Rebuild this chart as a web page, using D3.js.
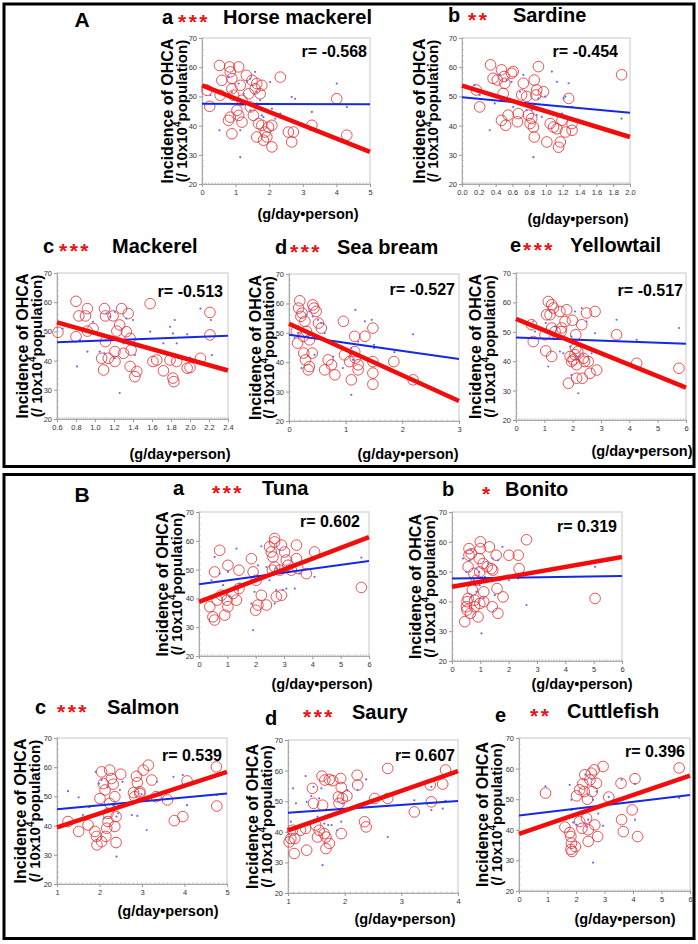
<!DOCTYPE html>
<html><head><meta charset="utf-8">
<script src="https://cdn.jsdelivr.net/npm/d3@7"></script>
<style>body{margin:0;background:#fff}svg{display:block}text{font-family:"Liberation Sans",Arial,sans-serif}</style>
</head><body>
<script>
// ---------- DATA ----------
const sectionLabels = ["A", "B"];
const panelLetters = ["a", "b", "c", "d", "e", "a", "b", "c", "d", "e"];
const fishNames = ["Horse mackerel", "Sardine", "Mackerel", "Sea bream", "Yellowtail", "Tuna", "Bonito", "Salmon", "Saury", "Cuttlefish"];
const significance = ["***", "**", "***", "***", "***", "***", "*", "***", "***", "**"];
const rValues = ["-0.568", "-0.454", "-0.513", "-0.527", "-0.517", "0.602", "0.319", "0.539", "0.607", "0.396"];
const yTicks = [20, 30, 40, 50, 60, 70];
const xTicks0to5 = [0, 1, 2, 3, 4, 5];
const xTicks0to2 = [0.0, 0.2, 0.4, 0.6, 0.8, 1.0, 1.2, 1.4, 1.6, 1.8, 2.0];
const xTicks06to24 = [0.6, 0.8, 1.0, 1.2, 1.4, 1.6, 1.8, 2.0, 2.2, 2.4];
const xTicks0to3 = [0, 1, 2, 3];
const xTicks0to6 = [0, 1, 2, 3, 4, 5, 6];
const xTicks1to5 = [1, 2, 3, 4, 5];
const xTicks1to4 = [1, 2, 3, 4];

// A-a Horse mackerel
const horseMackerelCircles = [[0.52,60.6],[0.82,60.1],[1.09,60.1],[0.15,52.1],[0.23,46.6],[0.54,50.4],[0.59,55.5],[0.84,58.4],[0.89,56.1],[0.89,52.6],[0.94,50.4],[0.84,42.9],[0.89,37.2],[0.79,41.8],[1.09,43.5],[1.19,41.2],[1.14,53.8],[1.19,48.7],[1.32,57.2],[1.39,50.9],[1.58,52.6],[1.63,54.4],[1.49,55.5],[1.73,50.9],[1.78,53.8],[1.53,43.5],[1.68,40.7],[1.63,36.1],[1.83,35.0],[1.78,40.1],[1.88,37.8],[1.98,39.5],[2.08,40.1],[2.08,32.7],[1.93,36.1],[2.33,56.6],[2.57,37.8],[2.72,37.8],[2.67,34.4],[3.27,40.1],[4.01,49.2],[4.31,36.7],[1.44,46.4],[1.04,45.2]];
const horseMackerelDots = [[0.15,53.8],[0.25,50.4],[0.52,38.4],[0.79,56.6],[0.89,51.5],[1.09,54.4],[1.14,38.4],[1.14,29.2],[1.34,54.9],[1.44,56.1],[1.58,58.4],[1.63,51.5],[1.73,48.7],[1.78,43.5],[1.83,42.9],[2.03,54.9],[2.08,45.8],[2.18,42.4],[2.67,49.8],[2.77,49.2],[3.27,44.7],[4.01,54.4],[4.31,46.4],[1.24,50.9],[1.44,45.2],[1.63,47.5],[2.33,44.1]];
const horseMackerelRed = [[0, 53.8], [5, 31.0]];
const horseMackerelBlue = [[0, 47.5], [5, 47.3]];

// A-b Sardine
const sardineCircles = [[0.17,52.2],[0.21,46.4],[0.34,60.8],[0.37,56.2],[0.42,55.6],[0.47,59.1],[0.50,56.8],[0.51,54.5],[0.49,51.0],[0.47,41.8],[0.52,40.1],[0.55,43.6],[0.61,58.5],[0.59,57.9],[0.67,44.1],[0.66,41.3],[0.73,54.5],[0.71,50.5],[0.77,50.0],[0.79,43.6],[0.83,42.4],[0.81,40.7],[0.85,39.5],[0.86,55.6],[0.88,50.5],[0.89,52.2],[0.86,36.1],[0.91,60.2],[0.97,51.6],[1.01,34.4],[1.05,40.7],[1.09,39.5],[1.13,38.9],[1.15,32.6],[1.17,34.4],[1.19,41.8],[1.23,37.8],[1.27,49.3],[1.31,38.4],[1.31,40.7],[1.90,57.4]];
const sardineDots = [[0.15,53.9],[0.21,50.5],[0.33,38.4],[0.39,47.6],[0.45,57.4],[0.53,48.7],[0.53,55.6],[0.59,55.0],[0.61,46.4],[0.73,57.4],[0.77,45.3],[0.83,45.3],[0.85,29.2],[0.91,49.3],[0.99,49.9],[1.07,58.5],[1.13,55.0],[1.19,44.1],[1.23,49.9],[1.27,54.5],[1.31,46.4],[1.21,49.3],[1.90,42.4],[0.95,43.0],[0.89,43.6],[0.69,51.6]];
const sardineRed = [[0, 53.7], [2, 36.1]];
const sardineBlue = [[0, 49.7], [2, 44.4]];

// A-c Mackerel
const mackerelCircles = [[0.61,49.7],[0.80,60.3],[0.80,48.2],[0.83,55.3],[0.90,55.3],[0.92,57.8],[0.92,50.1],[0.98,51.0],[1.07,40.8],[1.09,36.8],[1.10,57.8],[1.11,55.3],[1.11,46.5],[1.14,40.8],[1.19,55.3],[1.21,43.1],[1.21,39.7],[1.23,50.1],[1.26,52.2],[1.28,57.8],[1.30,42.5],[1.33,49.9],[1.35,56.1],[1.37,38.0],[1.42,34.5],[1.44,36.3],[1.38,43.6],[1.58,59.5],[1.61,39.7],[1.65,40.2],[1.72,36.5],[1.79,40.2],[1.82,34.0],[1.83,32.8],[1.86,39.7],[1.97,37.4],[2.00,37.6],[2.11,40.8],[2.21,56.5],[2.21,48.8],[1.37,47.6]];
const mackerelDots = [[0.66,51.0],[0.81,38.0],[0.84,47.0],[0.92,43.1],[0.98,53.3],[1.05,43.1],[1.10,42.5],[1.12,56.1],[1.16,55.0],[1.21,56.7],[1.21,40.8],[1.26,28.9],[1.30,45.9],[1.33,54.4],[1.40,53.9],[1.42,41.9],[1.58,49.9],[1.61,44.2],[1.72,45.9],[1.79,51.6],[1.82,49.3],[1.84,53.9],[1.86,45.9],[1.97,49.0],[2.00,41.0],[2.11,57.8],[2.22,53.9],[2.23,41.9],[1.26,47.6]];
const mackerelRed = [[0.6, 53.1], [2.4, 36.6]];
const mackerelBlue = [[0.6, 46.3], [2.4, 48.5]];

// A-d Sea bream
const seaBreamCircles = [[0.13,50.7],[0.15,46.5],[0.19,60.9],[0.17,58.4],[0.21,55.6],[0.23,56.7],[0.28,53.9],[0.31,50.5],[0.26,43.1],[0.29,40.8],[0.34,37.4],[0.36,38.5],[0.42,59.5],[0.44,58.4],[0.48,57.3],[0.52,53.3],[0.41,43.1],[0.57,51.6],[0.63,37.4],[0.69,40.8],[0.75,39.1],[0.81,35.7],[0.96,53.9],[0.98,42.5],[1.07,40.2],[1.10,34.0],[1.16,48.8],[1.17,41.4],[1.22,39.1],[1.22,37.4],[1.34,48.8],[1.48,51.6],[1.48,40.2],[1.48,36.3],[1.48,32.5],[1.85,40.2],[2.19,34.0],[0.25,48.8],[0.36,47.6],[1.16,43.6]];
const seaBreamDots = [[0.10,48.2],[0.16,49.9],[0.22,38.0],[0.31,56.1],[0.36,57.3],[0.42,55.6],[0.45,42.5],[0.51,54.4],[0.57,53.3],[0.63,49.9],[0.78,41.9],[0.95,38.0],[1.10,28.9],[1.10,44.8],[1.17,57.8],[1.22,47.0],[1.34,53.9],[1.46,54.4],[1.50,45.9],[1.50,44.8],[1.86,43.4],[2.19,49.5],[1.13,40.8]];
const seaBreamRed = [[0, 53.1], [3, 26.8]];
const seaBreamBlue = [[0, 49.3], [3, 41.1]];

// A-e Yellowtail
const yellowtailCircles = [[0.55,52.4],[0.61,46.7],[1.05,43.5],[1.26,41.6],[1.02,49.0],[1.08,55.8],[1.14,60.3],[1.26,59.2],[1.32,58.1],[1.20,55.8],[1.26,51.3],[1.38,50.1],[1.55,56.9],[1.61,51.3],[1.59,50.1],[1.79,57.5],[1.73,53.5],[1.99,53.9],[1.91,41.6],[2.02,40.5],[1.96,39.9],[2.11,49.0],[2.18,43.3],[2.08,42.2],[2.14,38.8],[1.85,32.5],[2.14,34.2],[2.32,52.4],[2.38,41.0],[2.34,34.2],[2.42,39.9],[2.55,39.9],[2.49,56.4],[2.79,56.9],[2.61,35.9],[2.85,37.0],[3.55,49.0],[4.26,39.3],[5.75,37.6],[2.11,44.4]];
const yellowtailDots = [[0.61,53.5],[0.67,50.1],[1.05,53.0],[1.14,38.2],[1.20,56.9],[1.32,47.8],[1.38,51.8],[1.55,43.3],[1.67,42.7],[1.79,47.3],[1.91,45.0],[1.96,48.4],[2.08,56.9],[2.14,41.0],[2.32,58.1],[2.32,45.6],[2.38,42.2],[2.49,53.5],[2.67,42.7],[2.79,49.5],[2.20,29.1],[3.55,54.1],[4.26,47.3],[5.75,51.3],[1.96,35.3]];
const yellowtailRed = [[0, 54.4], [6, 31.0]];
const yellowtailBlue = [[0, 48.1], [6, 45.9]];

// B-a Tuna
const tunaCircles = [[0.38,37.1],[0.49,33.6],[0.55,32.5],[0.55,49.2],[0.73,56.7],[0.64,39.4],[0.79,41.1],[0.91,34.2],[1.02,37.1],[0.99,39.4],[1.02,51.5],[1.20,41.7],[1.32,39.4],[1.41,43.4],[1.41,49.8],[1.85,53.8],[1.91,49.2],[2.02,46.3],[2.00,35.9],[2.08,37.7],[2.20,41.1],[2.38,37.7],[2.49,57.9],[2.55,56.1],[2.61,54.4],[2.59,49.8],[2.67,50.9],[2.67,60.8],[2.67,59.6],[2.73,40.6],[2.91,41.1],[2.91,58.5],[3.02,56.1],[3.14,51.5],[3.08,53.3],[3.44,58.5],[3.44,53.8],[3.49,50.4],[3.79,48.6],[4.08,56.1],[5.73,43.8],[2.85,49.8],[3.26,49.8]];
const tunaDots = [[0.44,46.3],[0.55,54.4],[0.73,48.6],[0.85,44.6],[1.02,49.2],[1.08,40.6],[1.32,57.3],[1.38,42.9],[1.44,45.2],[1.91,29.0],[1.85,38.2],[1.96,42.3],[2.08,51.5],[2.20,58.1],[2.38,50.9],[2.49,46.3],[2.61,48.6],[2.67,38.2],[2.73,50.4],[2.85,56.7],[2.96,42.9],[3.08,43.4],[3.26,53.3],[3.38,43.4],[3.55,48.6],[4.08,47.5],[5.73,54.2],[2.73,42.9]];
const tunaRed = [[0, 38.8], [6, 61.3]];
const tunaBlue = [[0, 44.9], [6, 53.0]];

// B-b Bonito
const bonitoCircles = [[0.45,33.2],[0.53,39.9],[0.51,38.2],[0.53,37.1],[0.57,41.0],[0.60,57.7],[0.60,55.5],[0.57,51.6],[0.68,56.0],[0.65,36.0],[0.72,43.8],[0.80,40.4],[0.77,49.4],[0.92,34.8],[0.98,49.9],[1.00,60.0],[0.96,54.4],[1.00,57.7],[0.98,39.3],[1.12,43.2],[1.10,52.7],[1.12,39.9],[1.24,51.6],[1.32,58.3],[1.39,51.0],[1.42,38.2],[1.44,50.5],[1.56,55.5],[1.59,44.3],[1.62,36.0],[1.80,41.5],[2.01,55.5],[2.34,55.5],[2.37,51.0],[2.63,60.7],[5.05,41.0],[0.86,47.1],[0.80,38.2]];
const bonitoDots = [[0.39,54.4],[0.51,49.9],[0.53,45.4],[0.63,53.8],[0.68,57.2],[0.77,47.1],[0.86,51.0],[0.86,43.2],[0.98,45.4],[1.04,29.3],[1.12,41.0],[1.16,48.2],[1.28,52.7],[1.44,54.4],[1.51,42.1],[1.62,53.8],[1.78,58.3],[1.69,47.1],[2.01,47.1],[2.34,47.7],[2.63,38.8],[5.05,51.6],[0.96,49.9],[0.68,41.5]];
const bonitoRed = [[0, 44.9], [6, 54.9]];
const bonitoBlue = [[0, 47.7], [6, 48.5]];

// B-c Salmon
const salmonCircles = [[1.26,41.4],[1.51,38.0],[1.73,40.2],[1.89,38.0],[1.93,36.3],[1.94,33.4],[2.05,34.5],[2.01,49.3],[2.05,58.4],[2.09,54.4],[2.13,52.2],[2.15,36.3],[2.17,39.1],[2.20,41.4],[2.20,44.2],[2.24,59.0],[2.28,56.1],[2.32,54.2],[2.36,49.9],[2.39,43.1],[2.36,39.7],[2.39,34.2],[2.50,57.6],[2.80,51.3],[2.87,56.9],[2.89,54.7],[2.95,51.0],[3.03,59.0],[3.15,60.7],[3.23,55.6],[3.33,49.9],[3.60,48.8],[3.76,41.7],[3.96,43.1],[4.06,55.3],[4.75,60.1],[4.76,46.7],[2.24,47.6],[2.95,51.6],[2.83,49.9]];
const salmonDots = [[1.26,51.8],[1.51,49.7],[1.61,43.6],[1.76,46.3],[1.91,58.4],[1.99,54.4],[2.05,55.6],[2.10,42.5],[2.18,53.1],[2.32,47.0],[2.40,43.1],[2.40,29.4],[2.44,44.2],[2.54,55.0],[2.76,43.6],[2.89,43.3],[2.99,50.8],[3.11,38.5],[3.35,55.0],[3.74,56.7],[3.96,57.3],[4.06,47.0],[4.76,50.5],[2.48,52.2]];
const salmonRed = [[1, 39.4], [5, 58.4]];
const salmonBlue = [[1, 45.6], [5, 51.0]];

// B-d Saury
const sauryCircles = [[1.02,36.7],[1.05,37.8],[1.08,40.5],[1.11,32.9],[1.12,37.8],[1.22,40.5],[1.31,41.1],[1.33,34.0],[1.43,54.2],[1.45,49.3],[1.49,42.2],[1.52,38.3],[1.55,40.5],[1.60,58.2],[1.61,48.7],[1.64,39.4],[1.65,56.9],[1.67,38.3],[1.67,34.5],[1.73,57.1],[1.73,36.2],[1.79,56.7],[1.89,51.4],[1.93,57.4],[1.94,54.5],[1.96,50.9],[1.94,39.4],[2.04,51.7],[2.22,58.5],[2.23,55.3],[2.35,43.3],[2.38,41.6],[2.53,50.9],[2.76,60.7],[2.76,50.9],[3.23,46.5],[3.51,55.3],[3.53,49.8],[3.73,55.6],[3.78,60.2],[1.90,49.3]];
const sauryDots = [[1.05,43.3],[1.09,54.2],[1.14,49.3],[1.31,58.2],[1.33,49.8],[1.41,51.7],[1.45,54.7],[1.52,44.9],[1.55,50.9],[1.59,54.2],[1.61,29.1],[1.64,42.7],[1.71,42.2],[1.77,42.2],[1.87,40.5],[1.94,43.3],[1.96,49.3],[2.05,53.6],[2.23,53.6],[2.38,57.1],[2.76,38.3],[3.23,50.3],[3.53,47.1],[3.53,54.7],[3.73,47.6],[3.78,50.1],[1.76,44.9]];
const sauryRed = [[1, 40.5], [4, 59.8]];
const sauryBlue = [[1, 46.2], [4, 50.1]];

// B-e Cuttlefish
const cuttlefishCircles = [[0.93,52.0],[1.61,40.9],[1.78,39.1],[1.82,37.8],[1.84,35.6],[1.82,33.6],[1.86,32.9],[1.98,34.5],[2.02,51.1],[2.13,42.7],[2.21,40.5],[2.24,55.0],[2.29,52.5],[2.31,58.0],[2.37,43.8],[2.40,50.0],[2.43,36.2],[2.49,56.3],[2.54,58.5],[2.57,52.5],[2.64,59.6],[2.66,41.6],[2.72,55.2],[2.76,37.8],[2.95,60.7],[3.15,50.7],[3.60,43.3],[3.58,55.2],[3.66,39.4],[3.97,46.5],[4.07,56.7],[4.16,37.8],[5.62,60.2],[2.43,40.0],[2.13,53.1]];
const cuttlefishDots = [[0.93,54.2],[1.78,54.7],[1.84,49.8],[1.84,46.5],[1.90,42.4],[2.02,41.6],[2.24,45.9],[2.33,58.0],[2.43,43.3],[2.54,56.6],[2.60,49.8],[2.60,29.3],[2.72,52.5],[2.95,41.3],[3.15,50.7],[3.60,56.4],[3.66,50.0],[4.07,43.3],[4.07,55.0],[5.62,50.4],[2.37,41.0],[2.78,45.3]];
const cuttlefishRed = [[0, 38.7], [6, 57.7]];
const cuttlefishBlue = [[0, 44.7], [6, 51.4]];

// ---------- LAYOUT ----------
const panels = [
  {circles: horseMackerelCircles, dots: horseMackerelDots, red: horseMackerelRed, blue: horseMackerelBlue, xTicks: xTicks0to5, fmt: d3.format("d"),
   plot: [202, 38, 168, 146], letterX: 162, letterY: 24, starX: 178, nameX: 223, nameY: 24, yl1: 165, yl2: 180, xtX: 308, xtY: 219, rX: 367, rY: 57},
  {circles: sardineCircles, dots: sardineDots, red: sardineRed, blue: sardineBlue, xTicks: xTicks0to2, fmt: d3.format(".1f"),
   plot: [462, 38, 168, 146], letterX: 448, letterY: 22, starX: 468, nameX: 513, nameY: 22, yl1: 417, yl2: 431, xtX: 578, xtY: 224, rX: 618, rY: 57},
  {circles: mackerelCircles, dots: mackerelDots, red: mackerelRed, blue: mackerelBlue, xTicks: xTicks06to24, fmt: d3.format(".1f"),
   plot: [57, 273, 171, 146], letterX: 43, letterY: 253, starX: 59, nameX: 112, nameY: 253, yl1: 20, yl2: 35, xtX: 180, xtY: 459, rX: 223, rY: 297},
  {circles: seaBreamCircles, dots: seaBreamDots, red: seaBreamRed, blue: seaBreamBlue, xTicks: xTicks0to3, fmt: d3.format("d"),
   plot: [289, 274, 170, 147], letterX: 275, letterY: 254, starX: 290, nameX: 337, nameY: 254, yl1: 253, yl2: 267, xtX: 408, xtY: 459, rX: 455, rY: 295},
  {circles: yellowtailCircles, dots: yellowtailDots, red: yellowtailRed, blue: yellowtailBlue, xTicks: xTicks0to6, fmt: d3.format("d"),
   plot: [516, 273, 170, 147], letterX: 510, letterY: 252, starX: 523, nameX: 570, nameY: 252, yl1: 473, yl2: 488, xtX: 642, xtY: 456, rX: 683, rY: 296},
  {circles: tunaCircles, dots: tunaDots, red: tunaRed, blue: tunaBlue, xTicks: xTicks0to6, fmt: d3.format("d"),
   plot: [199, 512, 170, 144], letterX: 173, letterY: 495, starX: 212, nameX: 262, nameY: 495, yl1: 160, yl2: 175, xtX: 322, xtY: 689, rX: 360, rY: 527},
  {circles: bonitoCircles, dots: bonitoDots, red: bonitoRed, blue: bonitoBlue, xTicks: xTicks0to6, fmt: d3.format("d"),
   plot: [452, 512, 170, 149], letterX: 442, letterY: 496, starX: 482, nameX: 505, nameY: 496, yl1: 413, yl2: 428, xtX: 582, xtY: 689, rX: 617, rY: 532},
  {circles: salmonCircles, dots: salmonDots, red: salmonRed, blue: salmonBlue, xTicks: xTicks1to5, fmt: d3.format("d"),
   plot: [57, 738, 170, 146], letterX: 35, letterY: 714, starX: 57, nameX: 107, nameY: 714, yl1: 18, yl2: 33, xtX: 168, xtY: 916, rX: 222, rY: 761},
  {circles: sauryCircles, dots: sauryDots, red: sauryRed, blue: sauryBlue, xTicks: xTicks1to4, fmt: d3.format("d"),
   plot: [288, 740, 170, 153], letterX: 265, letterY: 725, starX: 303, nameX: 352, nameY: 719, yl1: 250, yl2: 265, xtX: 405, xtY: 924, rX: 455, rY: 761},
  {circles: cuttlefishCircles, dots: cuttlefishDots, red: cuttlefishRed, blue: cuttlefishBlue, xTicks: xTicks0to6, fmt: d3.format("d"),
   plot: [519, 738, 171, 153], letterX: 495, letterY: 722, starX: 530, nameX: 567, nameY: 718, yl1: 480, yl2: 495, xtX: 625, xtY: 924, rX: 685, rY: 757}
];

const svg = d3.select("body").append("svg").attr("width", 698).attr("height", 944);

// section frames
const frames = [[4, 4, 690, 462.5], [4, 474.5, 690, 464]];
frames.forEach((f, i) => {
  svg.append("rect").attr("x", f[0]).attr("y", f[1]).attr("width", f[2]).attr("height", f[3])
    .attr("fill", "none").attr("stroke", "#000").attr("stroke-width", 3);
});
svg.append("text").attr("x", 82).attr("y", 27).attr("text-anchor", "middle")
  .attr("font-size", 21).attr("font-weight", "bold").text(sectionLabels[0]);
svg.append("text").attr("x", 82).attr("y", 502).attr("text-anchor", "middle")
  .attr("font-size", 21).attr("font-weight", "bold").text(sectionLabels[1]);

panels.forEach((p, i) => {
  const [px, py, pw, ph] = p.plot;
  const xd = [p.xTicks[0], p.xTicks[p.xTicks.length - 1]];
  const x = d3.scaleLinear().domain(xd).range([px, px + pw]);
  const y = d3.scaleLinear().domain([20, 70]).range([py + ph, py]);
  const g = svg.append("g");

  // frame of plot
  g.append("rect").attr("x", px).attr("y", py).attr("width", pw).attr("height", ph)
    .attr("fill", "none").attr("stroke", "#c8c8c8").attr("stroke-width", 1);

  // minor ticks
  const step = p.xTicks[1] - p.xTicks[0];
  const minorX = d3.range(xd[0], xd[1] + 1e-9, step / 10);
  g.append("g").selectAll("line").data(minorX).join("line")
    .attr("x1", d => x(d)).attr("x2", d => x(d))
    .attr("y1", py + ph).attr("y2", py + ph - 2)
    .attr("stroke", "#bbb").attr("stroke-width", 0.6);
  const minorY = d3.range(20, 70.01, 2);
  g.append("g").selectAll("line").data(minorY).join("line")
    .attr("x1", px).attr("x2", px + 2)
    .attr("y1", d => y(d)).attr("y2", d => y(d))
    .attr("stroke", "#bbb").attr("stroke-width", 0.6);

  // axes
  const ax = g.append("g").attr("transform", `translate(0,${py + ph})`)
    .call(d3.axisBottom(x).tickValues(p.xTicks).tickFormat(p.fmt).tickSize(3).tickPadding(3));
  const ay = g.append("g").attr("transform", `translate(${px},0)`)
    .call(d3.axisLeft(y).tickValues(yTicks).tickSize(3).tickPadding(2));
  [ax, ay].forEach(a => {
    a.select(".domain").attr("stroke", "#aaa");
    a.selectAll(".tick line").attr("stroke", "#999");
    a.selectAll(".tick text").attr("font-size", 7.5).attr("fill", "#333")
      .attr("font-family", "Liberation Sans, Arial, sans-serif");
  });

  // points
  g.append("g").selectAll("circle").data(p.circles).join("circle")
    .attr("cx", d => x(d[0])).attr("cy", d => y(d[1])).attr("r", 5.3)
    .attr("fill", "none").attr("stroke", "#e8262a").attr("stroke-width", 0.8);
  g.append("g").selectAll("circle").data(p.dots).join("circle")
    .attr("cx", d => x(d[0])).attr("cy", d => y(d[1])).attr("r", 1.1)
    .attr("fill", "#6b6bf0");

  // regression lines
  const line = d3.line().x(d => x(d[0])).y(d => y(d[1]));
  g.append("path").datum(p.blue).attr("d", line).attr("stroke", "#1428e6").attr("stroke-width", 2).attr("fill", "none");
  g.append("path").datum(p.red).attr("d", line).attr("stroke", "#f20d0d").attr("stroke-width", 4.5).attr("fill", "none");

  // r label
  g.append("text").attr("x", p.rX).attr("y", p.rY).attr("text-anchor", "end")
    .attr("font-size", 16).attr("font-weight", "bold").text("r= " + rValues[i]);

  // title
  g.append("text").attr("x", p.letterX).attr("y", p.letterY).attr("font-size", 20).attr("font-weight", "bold").text(panelLetters[i]);
  g.append("text").attr("x", p.starX).attr("y", p.nameY + 5).attr("font-size", 21).attr("font-weight", "bold")
    .attr("fill", "#ee1111").attr("letter-spacing", 2.5).text(significance[i]);
  g.append("text").attr("x", p.nameX).attr("y", p.nameY).attr("font-size", 20).attr("font-weight", "bold").text(fishNames[i]);

  // y title
  const cy = py + ph / 2;
  g.append("text").attr("transform", `translate(${p.yl1 + 7.5},${cy}) rotate(-90)`).attr("text-anchor", "middle")
    .attr("font-size", 16).attr("font-weight", "bold").text("Incidence of OHCA");
  const t2 = g.append("text").attr("transform", `translate(${p.yl2 + 6.5},${cy}) rotate(-90)`).attr("text-anchor", "middle")
    .attr("font-size", 15).attr("font-weight", "bold");
  t2.append("tspan").text("(/ 10x10");
  t2.append("tspan").attr("dy", -6).attr("font-size", 10).text("4");
  t2.append("tspan").attr("dy", 6).text("population)");

  // x title
  g.append("text").attr("x", p.xtX).attr("y", p.xtY).attr("text-anchor", "middle")
    .attr("font-size", 14.5).attr("font-weight", "bold").text("(g/day\u2022person)");
});
</script>
</body></html>
